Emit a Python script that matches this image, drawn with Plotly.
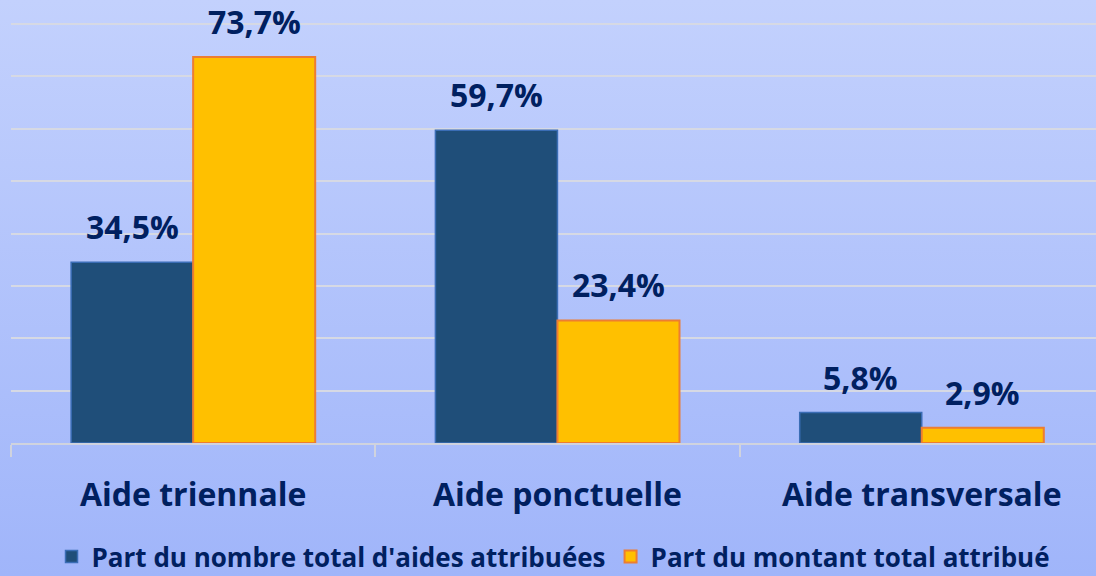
import base64
import plotly.graph_objects as go

categories = ["Aide triennale", "Aide ponctuelle", "Aide transversale"]
series_names = ["Part du nombre total d'aides attribuées", "Part du montant total attribué"]
part_nombre = [34.5, 59.7, 5.8]
part_montant = [73.7, 23.4, 2.9]

W, H = 1096, 576
ML, MR, MT, MB = 11, 0, 0, 133
plot_w = W - ML - MR
plot_h = H - MT - MB

FONT = "Open Sans"
TXT = "#002060"
BLUE = "#1F4E79"
BLUE_LINE = "#3A6DB5"
ORANGE = "#FFC000"
ORANGE_LINE = "#ED7D31"
GRID = "#D6D9E4"

BARGAP = 0.33
bar_w = (1 - BARGAP) / 2

fig = go.Figure()
fig.add_trace(go.Bar(
    x=categories, y=part_nombre, name=series_names[0],
    marker=dict(color=BLUE, line=dict(color=BLUE_LINE, width=1.5)),
    hoverinfo="skip",
))
fig.add_trace(go.Bar(
    x=categories, y=part_montant, name=series_names[1],
    marker=dict(color=ORANGE, line=dict(color=ORANGE_LINE, width=2)),
    hoverinfo="skip",
))

def fmt(v):
    return f"{v:.1f}".replace(".", ",") + "%"

annotations = []
for i, (a, b) in enumerate(zip(part_nombre, part_montant)):
    for v, off in ((a, -bar_w / 2), (b, bar_w / 2)):
        annotations.append(dict(
            x=i + off, y=v, xref="x", yref="y", text=fmt(v), showarrow=False,
            yanchor="bottom", xanchor="center", yshift=12,
            font=dict(family=FONT, size=32, color=TXT, weight="bold"),
        ))

# background gradient (vertical)
svg = (
    '<svg xmlns="http://www.w3.org/2000/svg" width="100" height="100" preserveAspectRatio="none">'
    '<defs><linearGradient id="g" x1="0" y1="0" x2="0" y2="1">'
    '<stop offset="0" stop-color="#C3D1FD"/><stop offset="1" stop-color="#A0B5FA"/>'
    '</linearGradient></defs><rect width="100" height="100" fill="url(#g)"/></svg>'
)
src = "data:image/svg+xml;base64," + base64.b64encode(svg.encode()).decode()

ymax = plot_h / (419 / 80)

fig.update_layout(
    template="none",
    width=W, height=H,
    margin=dict(l=ML, r=MR, t=MT, b=MB, pad=0, autoexpand=False),
    paper_bgcolor="#B2C4FB",
    plot_bgcolor="rgba(0,0,0,0)",
    barmode="group", bargap=BARGAP, bargroupgap=0,
    font=dict(family=FONT, color=TXT),
    images=[dict(
        source=src, xref="paper", yref="paper",
        x=-ML / plot_w, y=1 + MT / plot_h,
        sizex=W / plot_w, sizey=H / plot_h,
        sizing="stretch", layer="below", xanchor="left", yanchor="top",
    )],
    xaxis=dict(
        type="category", range=[-0.5, -0.5 + plot_w / 364.3],
        showgrid=False, zeroline=False, automargin=False,
        showline=True, linecolor="#D0D3DE", linewidth=2,
        ticks="outside", tickson="boundaries", ticklen=12, tickwidth=2, tickcolor="#D0D3DE",
        tickfont=dict(family=FONT, size=32, color=TXT, weight="bold"),
        ticklabelstandoff=23,
    ),
    yaxis=dict(
        range=[0, ymax], dtick=10, tick0=0,
        showgrid=True, gridcolor=GRID, gridwidth=2,
        zeroline=False, showticklabels=False, ticks="", automargin=False,
        showline=False,
    ),
    showlegend=True,
    legend=dict(
        orientation="h", xref="container", yref="paper",
        x=0.047, xanchor="left", y=-(H - MT - plot_h + 4) / plot_h, yanchor="bottom",
        font=dict(family=FONT, size=26, color=TXT, weight="bold"),
        bgcolor="rgba(0,0,0,0)", traceorder="normal",
    ),
    annotations=annotations,
)

fig.write_html("out.html", config={"displayModeBar": False},
               post_script="document.body.style.margin='0';")
